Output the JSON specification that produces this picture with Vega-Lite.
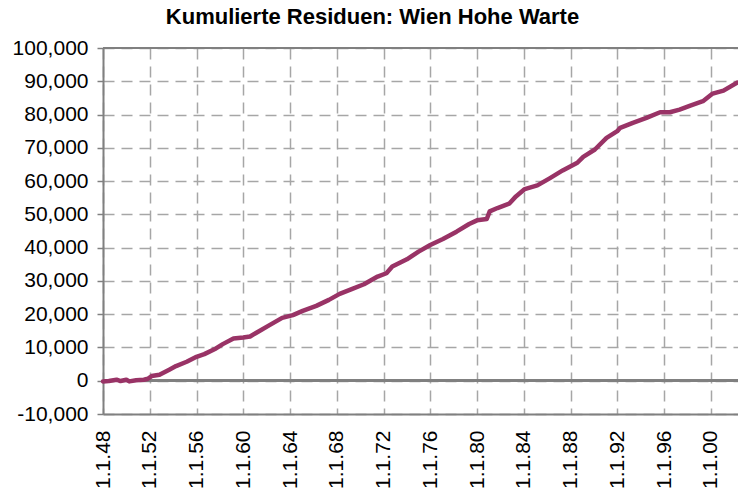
{
  "$schema": "https://vega.github.io/schema/vega-lite/v6.json",
  "width": 635,
  "height": 366,
  "autosize": {"type": "none"},
  "padding": {"left": 103, "top": 48, "right": 0, "bottom": 77},
  "background": "white",
  "title": {
    "text": "Kumulierte Residuen: Wien Hohe Warte",
    "font": "Liberation Sans",
    "fontSize": 22,
    "fontWeight": "bold",
    "color": "black",
    "anchor": "middle",
    "dx": -48,
    "offset": 8
  },
  "config": {
    "view": {"stroke": null},
    "axis": {
      "labelFont": "Liberation Sans",
      "labelFontSize": 21,
      "labelColor": "black",
      "domainColor": "#808080",
      "domainWidth": 2,
      "gridColor": "#a6a6a6",
      "gridWidth": 1.5,
      "gridDash": [11, 7],
      "tickColor": "#808080",
      "tickWidth": 1.5,
      "title": null
    }
  },
  "data": {
    "values": [
      {"date": "1948-01-01", "value": -200},
      {"date": "1948-07-01", "value": -100},
      {"date": "1949-03-01", "value": 300},
      {"date": "1949-07-01", "value": -100},
      {"date": "1950-01-01", "value": 300},
      {"date": "1950-04-01", "value": -200},
      {"date": "1950-11-01", "value": 150},
      {"date": "1951-07-01", "value": 300},
      {"date": "1951-11-01", "value": 600},
      {"date": "1952-03-01", "value": 1400},
      {"date": "1952-11-01", "value": 1800},
      {"date": "1953-09-01", "value": 3300},
      {"date": "1954-04-01", "value": 4400},
      {"date": "1955-03-01", "value": 5700},
      {"date": "1956-01-01", "value": 7200},
      {"date": "1956-09-01", "value": 8000},
      {"date": "1957-09-01", "value": 9700},
      {"date": "1958-04-01", "value": 11000},
      {"date": "1959-03-01", "value": 12700},
      {"date": "1960-01-01", "value": 13000},
      {"date": "1960-08-01", "value": 13300},
      {"date": "1961-03-01", "value": 14500},
      {"date": "1962-04-01", "value": 16700},
      {"date": "1963-05-01", "value": 18900},
      {"date": "1964-04-01", "value": 19700},
      {"date": "1965-02-01", "value": 21000},
      {"date": "1966-04-01", "value": 22500},
      {"date": "1967-05-01", "value": 24300},
      {"date": "1968-04-01", "value": 26100},
      {"date": "1969-05-01", "value": 27600},
      {"date": "1970-05-01", "value": 29000},
      {"date": "1971-07-01", "value": 31300},
      {"date": "1972-04-01", "value": 32300},
      {"date": "1972-10-01", "value": 34300},
      {"date": "1974-01-01", "value": 36500},
      {"date": "1975-01-01", "value": 38800},
      {"date": "1976-01-01", "value": 40800},
      {"date": "1977-02-01", "value": 42600},
      {"date": "1978-04-01", "value": 44800},
      {"date": "1979-05-01", "value": 47100},
      {"date": "1980-01-01", "value": 48200},
      {"date": "1980-11-01", "value": 48600},
      {"date": "1981-02-01", "value": 50900},
      {"date": "1981-10-01", "value": 51900},
      {"date": "1982-10-01", "value": 53200},
      {"date": "1983-05-01", "value": 55400},
      {"date": "1984-02-01", "value": 57600},
      {"date": "1985-03-01", "value": 58700},
      {"date": "1986-04-01", "value": 60900},
      {"date": "1987-05-01", "value": 63200},
      {"date": "1988-08-01", "value": 65500},
      {"date": "1989-02-01", "value": 67300},
      {"date": "1990-02-01", "value": 69500},
      {"date": "1991-02-01", "value": 73000},
      {"date": "1992-01-01", "value": 75000},
      {"date": "1992-04-01", "value": 76000},
      {"date": "1993-05-01", "value": 77500},
      {"date": "1994-07-01", "value": 79000},
      {"date": "1995-09-01", "value": 80700},
      {"date": "1996-07-01", "value": 80700},
      {"date": "1997-05-01", "value": 81500},
      {"date": "1998-04-01", "value": 82700},
      {"date": "1999-05-01", "value": 84000},
      {"date": "2000-03-01", "value": 86300},
      {"date": "2001-02-01", "value": 87200},
      {"date": "2002-04-01", "value": 89600}
    ]
  },
  "encoding": {
    "x": {
      "field": "date",
      "type": "temporal",
      "scale": {
        "type": "utc",
        "domain": [
          {"year": 1948, "month": 1, "date": 1, "utc": true},
          {"year": 2002, "month": 5, "date": 1, "utc": true}
        ]
      },
      "axis": {
        "values": [
          {"year": 1948, "month": 1, "date": 1, "utc": true},
          {"year": 1952, "month": 1, "date": 1, "utc": true},
          {"year": 1956, "month": 1, "date": 1, "utc": true},
          {"year": 1960, "month": 1, "date": 1, "utc": true},
          {"year": 1964, "month": 1, "date": 1, "utc": true},
          {"year": 1968, "month": 1, "date": 1, "utc": true},
          {"year": 1972, "month": 1, "date": 1, "utc": true},
          {"year": 1976, "month": 1, "date": 1, "utc": true},
          {"year": 1980, "month": 1, "date": 1, "utc": true},
          {"year": 1984, "month": 1, "date": 1, "utc": true},
          {"year": 1988, "month": 1, "date": 1, "utc": true},
          {"year": 1992, "month": 1, "date": 1, "utc": true},
          {"year": 1996, "month": 1, "date": 1, "utc": true},
          {"year": 2000, "month": 1, "date": 1, "utc": true}
        ],
        "labelExpr": "'1.1.' + utcFormat(datum.value, '%y')",
        "labelFontSize": 21,
        "grid": true,
        "ticks": false,
        "labelAngle": -90,
        "labelAlign": "right",
        "labelBaseline": "middle",
        "labelPadding": 16,
        "labelOverlap": false,
        "labelBound": false,
        "labelFlush": false
      }
    },
    "y": {
      "field": "value",
      "type": "quantitative",
      "scale": {"domain": [-10000, 100000], "nice": false, "zero": false},
      "axis": {
        "values": [-10000, 0, 10000, 20000, 30000, 40000, 50000, 60000, 70000, 80000, 90000, 100000],
        "format": ",d",
        "labelExpr": "replace(datum.label, '−', '-')",
        "grid": true,
        "tickSize": 6,
        "labelPadding": 9,
        "labelOverlap": false,
        "labelBound": false,
        "labelFlush": false
      }
    }
  },
  "layer": [
    {
      "mark": {"type": "rule", "color": "#808080", "strokeWidth": 2},
      "encoding": {"x": null, "y": {"datum": 0}}
    },
    {
      "mark": {"type": "rule", "color": "#808080", "strokeWidth": 2},
      "encoding": {"x": null, "y": {"datum": 100000}}
    },
    {
      "mark": {"type": "line", "color": "#993366", "strokeWidth": 4.5, "strokeJoin": "round", "strokeCap": "round"},
      "encoding": {}
    }
  ]
}
